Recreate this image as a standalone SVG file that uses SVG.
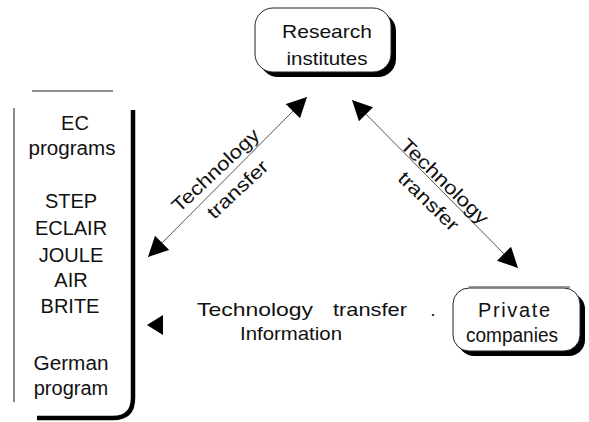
<svg xmlns="http://www.w3.org/2000/svg" width="589" height="422" viewBox="0 0 589 422">
<defs>
<style>
text{font-family:"Liberation Sans",Arial,sans-serif;fill:#111;}
.t{font-size:19px;text-anchor:middle;}
.b{font-size:20px;text-anchor:middle;}
.ln{stroke:#555;stroke-width:1;fill:none;}
.box{fill:#fff;stroke:#222;stroke-width:1;}
.sh{fill:#000;}
</style>
<marker id="ah" viewBox="0 0 20 20" refX="20" refY="10" markerWidth="20" markerHeight="20" markerUnits="userSpaceOnUse" orient="auto-start-reverse">
<path d="M0,0 L20,10 L0,20 Z" fill="#000"/>
</marker>
</defs>
<rect width="589" height="422" fill="#fff"/>

<g id="research">
<rect class="sh" x="260" y="13" width="136" height="64" rx="18"/>
<rect class="box" x="255" y="8" width="136" height="64" rx="18"/>
<text class="t" x="327" y="38" textLength="90" lengthAdjust="spacingAndGlyphs">Research</text>
<text class="t" x="327" y="65" textLength="81" lengthAdjust="spacingAndGlyphs">institutes</text>
</g>

<g id="ec-programs">
<line x1="32" y1="91" x2="113" y2="91" stroke="#222" stroke-width="1.2"/>
<line x1="14" y1="108" x2="14" y2="402" stroke="#666" stroke-width="1.5"/>
<path d="M133,110 L133,398 Q133,418 113,418 L37,418" fill="none" stroke="#000" stroke-width="4.5"/>
<text class="b" x="75" y="130">EC</text>
<text class="b" x="72" y="155" textLength="87" lengthAdjust="spacingAndGlyphs">programs</text>
<text class="b" x="71" y="208">STEP</text>
<text class="b" x="71" y="235">ECLAIR</text>
<text class="b" x="71" y="262">JOULE</text>
<text class="b" x="71" y="287">AIR</text>
<text class="b" x="70" y="313">BRITE</text>
<text class="b" x="71" y="370" textLength="75" lengthAdjust="spacingAndGlyphs">German</text>
<text class="b" x="71" y="395">program</text>
</g>

<g id="private">
<rect class="sh" x="458" y="293" width="127" height="63" rx="16"/>
<rect class="box" x="453" y="288" width="127" height="63" rx="16" stroke="#888"/>
<line x1="469" y1="287" x2="570" y2="287" stroke="#777" stroke-width="1.5"/>
<text class="b" x="514" y="317" font-size="21" textLength="72" lengthAdjust="spacing">Private</text>
<text class="b" x="512" y="342" textLength="92" lengthAdjust="spacingAndGlyphs">companies</text>
</g>

<g id="connectors">
<line class="ln" x1="148" y1="257" x2="307" y2="97" marker-start="url(#ah)" marker-end="url(#ah)"/>
<line class="ln" x1="352" y1="100" x2="518" y2="268" marker-start="url(#ah)" marker-end="url(#ah)"/>
<polygon points="147,325 163,315 163,335" fill="#000"/>
</g>

<g id="labels">
<text class="t" transform="translate(220,175) rotate(-43)" textLength="112" lengthAdjust="spacingAndGlyphs">Technology</text>
<text class="t" transform="translate(242,194) rotate(-43)" textLength="76" lengthAdjust="spacingAndGlyphs">transfer</text>
<text class="t" transform="translate(440,186) rotate(44)" textLength="114" lengthAdjust="spacingAndGlyphs">Technology</text>
<text class="t" transform="translate(424,206) rotate(44)" textLength="76" lengthAdjust="spacingAndGlyphs">transfer</text>
<text class="t" x="255" y="316" textLength="116" lengthAdjust="spacingAndGlyphs">Technology</text>
<text class="t" x="370" y="316" textLength="74" lengthAdjust="spacingAndGlyphs">transfer</text>
<text class="t" x="433" y="316">.</text>
<text class="t" x="291" y="340" textLength="102" lengthAdjust="spacingAndGlyphs">Information</text>
</g>
</svg>
